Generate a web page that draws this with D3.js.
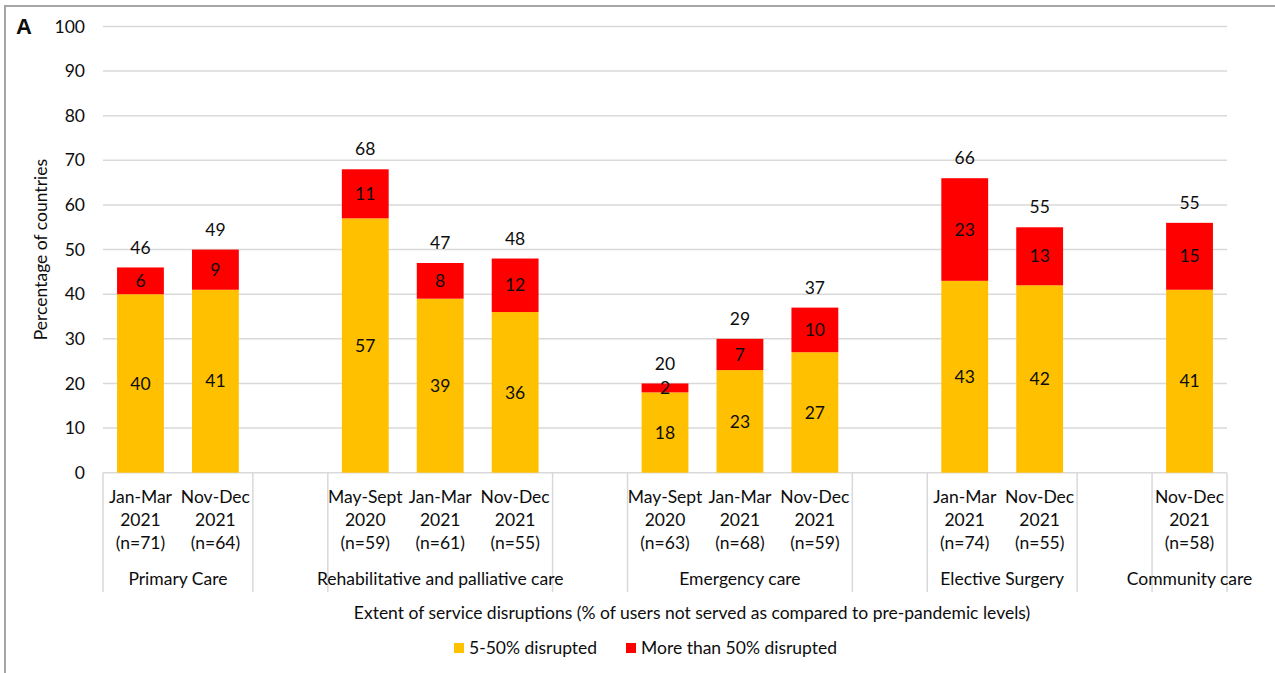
<!DOCTYPE html>
<html><head><meta charset="utf-8">
<script src="https://cdn.jsdelivr.net/npm/d3@7"></script>
<style>
html,body{margin:0;padding:0;background:#fff;}
svg{display:block;font-family:Lato, "Open Sans", sans-serif;}
</style></head>
<body>
<svg id="chart" width="1275" height="673"></svg>
<script>
// ---- data ----
const periodLine1 = ["Jan-Mar","Nov-Dec","","May-Sept","Jan-Mar","Nov-Dec","","May-Sept","Jan-Mar","Nov-Dec","","Jan-Mar","Nov-Dec","","Nov-Dec"];
const periodLine2 = ["2021","2021","","2020","2021","2021","","2020","2021","2021","","2021","2021","","2021"];
const sampleN    = ["(n=71)","(n=64)","","(n=59)","(n=61)","(n=55)","","(n=63)","(n=68)","(n=59)","","(n=74)","(n=55)","","(n=58)"];
const moderate   = [40,41,null,57,39,36,null,18,23,27,null,43,42,null,41];
const severe     = [6,9,null,11,8,12,null,2,7,10,null,23,13,null,15];
const totals     = [46,49,null,68,47,48,null,20,29,37,null,66,55,null,55];
const groupNames = ["Primary Care","","Rehabilitative and palliative care","","Emergency care","","Elective Surgery","","Community care"];
const groupSizes = [2,1,3,1,3,1,2,1,1];
const yTicks     = [0,10,20,30,40,50,60,70,80,90,100];
const seriesNames = ["5-50% disrupted","More than 50% disrupted"];
const seriesColors = ["#FFC000","#FF0000"];

const svg = d3.select("#chart");
const textColor = "#0d0d0d";
const fs = 17.5;

// frame
svg.append("rect").attr("x",5).attr("y",6).attr("width",1300).attr("height",700)
  .attr("fill","none").attr("stroke","#a6a6a6").attr("stroke-width",2);

const plotLeft = 103, plotRight = 1227, plotTop = 26.5, plotBottom = 472.7;
const slots = d3.range(periodLine1.length);
const x = d3.scaleBand().domain(slots).range([plotLeft, plotRight]).paddingInner(0).paddingOuter(0);
const y = d3.scaleLinear().domain([0,100]).range([plotBottom, plotTop]);
const barW = x.bandwidth()/1.6;

// gridlines
svg.append("g").selectAll("line").data(yTicks).join("line")
  .attr("x1",plotLeft).attr("x2",plotRight)
  .attr("y1",d=>y(d)).attr("y2",d=>y(d))
  .attr("stroke","#d9d9d9").attr("stroke-width",1.5);

// y axis
const yAxis = svg.append("g").attr("transform",`translate(${plotLeft-18},0)`)
  .call(d3.axisLeft(y).tickValues(yTicks).tickSize(0).tickPadding(0));
yAxis.select(".domain").remove();
yAxis.selectAll("text").attr("font-size",fs).attr("fill",textColor).attr("font-family","Lato, sans-serif");

// y title
svg.append("text").attr("transform",`translate(47,${(plotTop+plotBottom)/2}) rotate(-90)`)
  .attr("text-anchor","middle").attr("font-size",fs).attr("fill",textColor)
  .text("Percentage of countries");

// panel letter
svg.append("text").attr("x",16).attr("y",34).attr("font-size",22).attr("font-weight","bold")
  .attr("fill",textColor).attr("font-family","Liberation Sans, Arial, sans-serif").text("A");

// stacked bars
const rows = slots.map(i=>({i, m: moderate[i]||0, s: severe[i]||0}));
const stack = d3.stack().keys(["m","s"])(rows);
const barG = svg.append("g");
stack.forEach((layer,k)=>{
  barG.append("g").attr("fill",seriesColors[k]).selectAll("rect")
    .data(layer.filter(d=>d[1]-d[0]>0)).join("rect")
    .attr("x",d=>x(d.data.i)+(x.bandwidth()-barW)/2)
    .attr("width",barW)
    .attr("y",d=>y(d[1]))
    .attr("height",d=>y(d[0])-y(d[1]));
  barG.append("g").selectAll("text")
    .data(layer.filter(d=>d[1]-d[0]>0)).join("text")
    .attr("x",d=>x(d.data.i)+x.bandwidth()/2)
    .attr("y",d=>(y(d[0])+y(d[1]))/2)
    .attr("dy","0.35em").attr("text-anchor","middle")
    .attr("font-size",fs).attr("fill",textColor)
    .text(d=>d[1]-d[0]);
});
// totals
svg.append("g").selectAll("text").data(slots.filter(i=>totals[i]!=null)).join("text")
  .attr("x",i=>x(i)+x.bandwidth()/2)
  .attr("y",i=>y((moderate[i]||0)+(severe[i]||0))-20)
  .attr("dy","0.35em").attr("text-anchor","middle")
  .attr("font-size",fs).attr("fill",textColor)
  .text(i=>totals[i]);

// category labels
const catG = svg.append("g").attr("font-size",fs).attr("fill",textColor).attr("text-anchor","middle");
[[periodLine1,497],[periodLine2,520],[sampleN,543]].forEach(([arr,yy])=>{
  catG.append("g").selectAll("text").data(slots).join("text")
    .attr("x",i=>x(i)+x.bandwidth()/2).attr("y",yy).attr("dy","0.35em")
    .text(i=>arr[i]);
});

// group separators and names
let acc = 0;
const bounds = [0];
groupSizes.forEach(s=>{acc+=s; bounds.push(acc);});
const sepX = b => b < slots.length ? x(b) : plotRight;
svg.append("g").selectAll("line").data(bounds).join("line")
  .attr("x1",b=>sepX(b)).attr("x2",b=>sepX(b))
  .attr("y1",plotBottom).attr("y2",592)
  .attr("stroke","#d9d9d9").attr("stroke-width",1.5);
svg.append("g").selectAll("text").data(groupNames.map((g,k)=>({g,k}))).join("text")
  .attr("x",d=>(sepX(bounds[d.k])+sepX(bounds[d.k+1]))/2)
  .attr("y",579).attr("dy","0.35em").attr("text-anchor","middle")
  .attr("font-size",fs).attr("fill",textColor)
  .text(d=>d.g);

// x title
svg.append("text").attr("x",692).attr("y",613).attr("dy","0.35em").attr("text-anchor","middle")
  .attr("font-size",fs).attr("fill",textColor)
  .text("Extent of service disruptions (% of users not served as compared to pre-pandemic levels)");

// legend
const legX = [454,626];
const leg = svg.append("g");
seriesNames.forEach((n,k)=>{
  leg.append("rect").attr("x",legX[k]).attr("y",643).attr("width",10).attr("height",10).attr("fill",seriesColors[k]);
  leg.append("text").attr("x",legX[k]+15).attr("y",648).attr("dy","0.35em")
    .attr("font-size",fs).attr("fill",textColor).text(n);
});
</script>
</body></html>
